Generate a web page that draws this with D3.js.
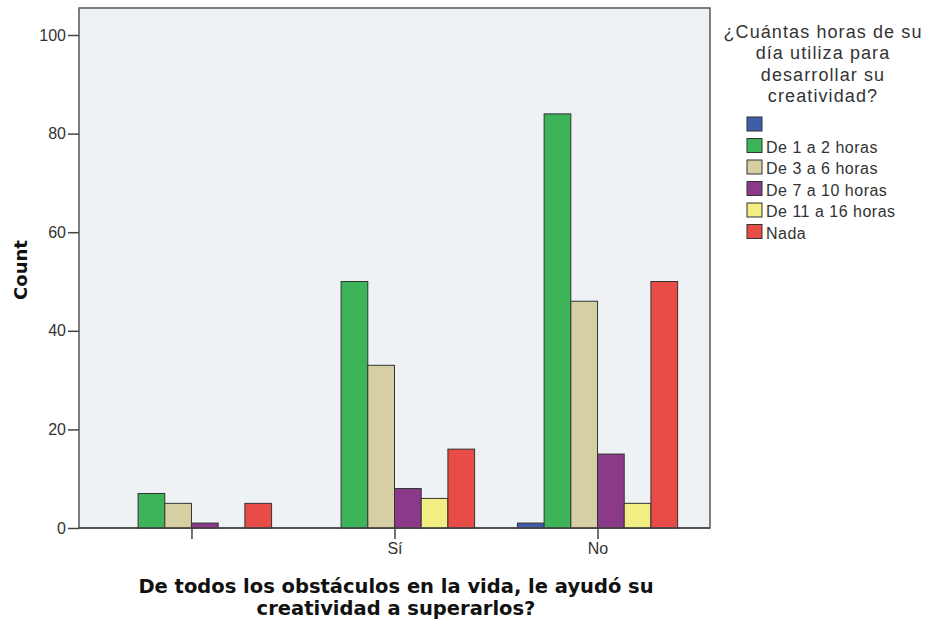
<!DOCTYPE html>
<html><head><meta charset="utf-8">
<script src="https://cdn.jsdelivr.net/npm/d3@7"></script>
<style>body{margin:0;background:#fff;} svg{font-family:Arial,"Liberation Sans",sans-serif;}</style>
</head><body><svg id="c" width="929" height="627"></svg>
<script>
const categories = ["", "Sí", "No"];
const seriesNames = ["", "De 1 a 2 horas", "De 3 a 6 horas", "De 7 a 10 horas", "De 11 a 16 horas", "Nada"];
const seriesColors = ["#3f5ca8", "#3db45a", "#d5cfa3", "#8b3a8a", "#f3ee83", "#e74c47"];
const blank = [0, 0, 1];
const h1to2 = [7, 50, 84];
const h3to6 = [5, 33, 46];
const h7to10 = [1, 8, 15];
const h11to16 = [0, 6, 5];
const nada = [5, 16, 50];
const yTicks = [0, 20, 40, 60, 80, 100];
const series = [blank, h1to2, h3to6, h7to10, h11to16, nada];

const svg = d3.select("#c");
const L = 79, R = 710, T = 8, B = 528;
svg.append("rect").attr("x", L).attr("y", T).attr("width", R - L).attr("height", B - T)
  .attr("fill", "#eff2f4").attr("stroke", "#555").attr("stroke-width", 1.5);

const y = d3.scaleLinear().domain([0, 100]).range([B, 35]);
const x = d3.scalePoint().domain(categories).range([L, R]).padding(0.554);
const barW = 26.7;
const xs = d3.scaleBand().domain(d3.range(seriesNames.length)).range([-barW * 3, barW * 3]).padding(0);

categories.forEach((c, ci) => {
  series.forEach((s, si) => {
    const v = s[ci];
    if (v <= 0) return;
    svg.append("rect")
      .attr("x", x(c) + xs(si)).attr("y", y(v))
      .attr("width", xs.bandwidth()).attr("height", y(0) - y(v))
      .attr("fill", seriesColors[si]).attr("stroke", "#333").attr("stroke-width", 1);
  });
});

const ARIAL = "Arial,'Liberation Sans',sans-serif";
const DEJAVU = "'DejaVu Sans',Verdana,sans-serif";

// axes
const yAxis = d3.axisLeft(y).tickValues(yTicks).tickSize(11).tickPadding(2);
const gy = svg.append("g").attr("transform", `translate(${L},0)`).call(yAxis);
gy.select(".domain").remove();
gy.selectAll("line").attr("stroke", "#444").attr("stroke-width", 1.5);
gy.selectAll("text").style("font-size", "16px").style("font-family", ARIAL).attr("fill", "#333");

const xAxis = d3.axisBottom(x).tickSize(11).tickPadding(4);
const gx = svg.append("g").attr("transform", `translate(0,${B})`).call(xAxis);
gx.select(".domain").remove();
gx.selectAll("line").attr("stroke", "#444").attr("stroke-width", 1.5);
gx.selectAll("text").style("font-size", "16px").style("font-family", ARIAL).attr("fill", "#333");

svg.append("line").attr("x1", L).attr("x2", R).attr("y1", B).attr("y2", B).attr("stroke", "#444").attr("stroke-width", 1.5);

// titles
svg.append("text").attr("transform", "translate(27,270) rotate(-90)").attr("text-anchor", "middle")
  .style("font-family", DEJAVU).style("font-size", "18px").style("font-weight", "bold")
  .attr("fill", "#111").text("Count");
const xt = svg.append("text").attr("text-anchor", "middle")
  .style("font-family", DEJAVU).style("font-size", "19.5px").style("font-weight", "bold").attr("fill", "#111");
xt.append("tspan").attr("x", 396).attr("y", 593).text("De todos los obstáculos en la vida, le ayudó su");
xt.append("tspan").attr("x", 396).attr("y", 615).text("creatividad a superarlos?");

// legend
const lt = ["¿Cuántas horas de su", "día utiliza para", "desarrollar su", "creatividad?"];
const ltt = svg.append("text").attr("text-anchor", "middle").style("font-size", "18px").style("font-family", ARIAL)
  .attr("letter-spacing", 1.1).attr("fill", "#333");
lt.forEach((t, i) => ltt.append("tspan").attr("x", 823).attr("y", 38 + i * 21.3).text(t));

seriesNames.forEach((n, i) => {
  const yy = 117 + i * 21.5;
  svg.append("rect").attr("x", 747).attr("y", yy).attr("width", 15).attr("height", 14)
    .attr("fill", seriesColors[i]).attr("stroke", "#333").attr("stroke-width", 1);
  svg.append("text").attr("x", 766).attr("y", yy + 14).style("font-size", "16px").style("font-family", ARIAL)
    .attr("letter-spacing", 0.5).attr("fill", "#333").text(n);
});
</script></body></html>
